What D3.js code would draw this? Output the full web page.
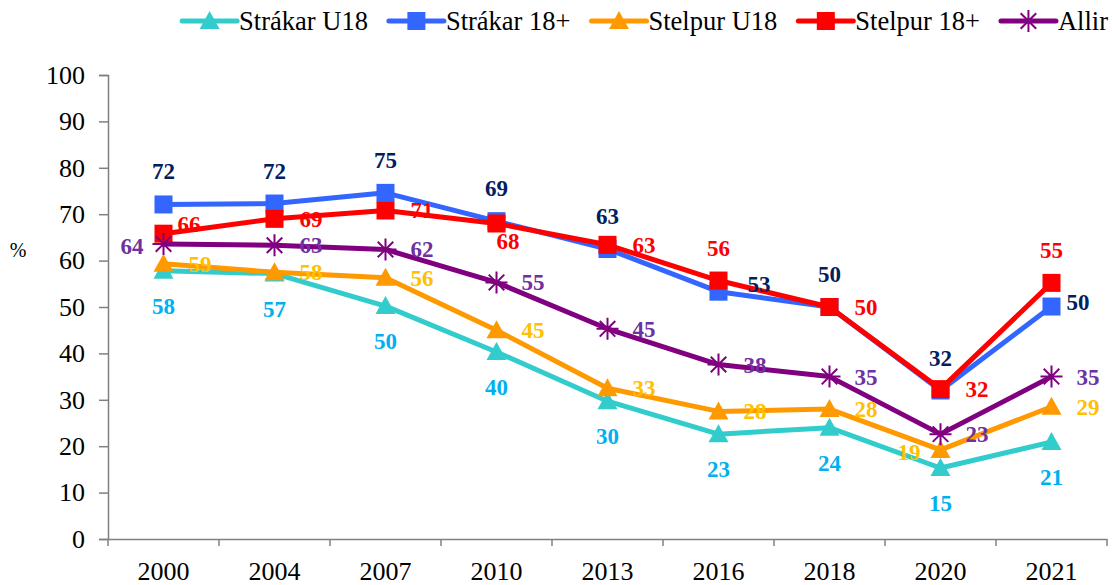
<!DOCTYPE html>
<html>
<head>
<meta charset="utf-8">
<script src="https://cdn.jsdelivr.net/npm/d3@7"></script>
<style>
  body { margin: 0; background: #fff; }
  svg text { font-family: "Liberation Serif", "Times New Roman", serif; }
</style>
</head>
<body>
<svg id="chart" width="1112" height="585"></svg>
<script>
const years = ["2000", "2004", "2007", "2010", "2013", "2016", "2018", "2020", "2021"]
const yTicks = [0, 10, 20, 30, 40, 50, 60, 70, 80, 90, 100]

const strakarU18 = [57.8, 57.2, 50.2, 40.3, 29.7, 22.6, 24, 15.3, 20.9]
const strakar18 = [72.1, 72.3, 74.6, 68.5, 62.5, 53.3, 50, 32, 50.1]
const stelpurU18 = [59.3, 57.5, 56.3, 45, 32.5, 27.5, 28, 19.2, 28.5]
const stelpur18 = [65.8, 69, 70.8, 68, 63.4, 55.7, 50, 32.3, 55.2]
const allir = [63.6, 63.3, 62.4, 55.3, 45.3, 37.6, 35, 22.6, 35]

// label text per point (rounded as shown) and where the label sits
const labelsStrakarU18 = ["58", "57", "50", "40", "30", "23", "24", "15", "21"]
const labelsStrakar18 = ["72", "72", "75", "69", "63", "53", "50", "32", "50"]
const labelsStelpurU18 = ["59", "58", "56", "45", "33", "28", "28", "19", "29"]
const labelsStelpur18 = ["66", "69", "71", "68", "63", "56", "50", "32", "55"]
const labelsAllir = ["64", "63", "62", "55", "45", "38", "35", "23", "35"]

const placeStrakarU18 = ["below", "below", "below", "below", "below", "below", "below", "below", "below"]
const placeStrakar18 = ["above", "above", "above", "above", "above", "rightup", "above", "above", "rightnear"]
const placeStelpurU18 = ["right", "right", "right", "right", "right", "right", "right", "left", "right"]
const placeStelpur18 = ["upright", "right", "right", "belowright", "right", "above", "right", "right", "above"]
const placeAllir = ["left", "right", "right", "right", "right", "right", "right", "right", "right"]

const series = [
  { name: "Strákar U18", values: strakarU18, labels: labelsStrakarU18, place: placeStrakarU18,
    line: "#33CCCC", label: "#00B0F0", marker: "triangle" },
  { name: "Strákar 18+", values: strakar18, labels: labelsStrakar18, place: placeStrakar18,
    line: "#3366FF", label: "#002060", marker: "square" },
  { name: "Stelpur U18", values: stelpurU18, labels: labelsStelpurU18, place: placeStelpurU18,
    line: "#FF9900", label: "#FFC000", marker: "triangle" },
  { name: "Stelpur 18+", values: stelpur18, labels: labelsStelpur18, place: placeStelpur18,
    line: "#FF0000", label: "#FF0000", marker: "square" },
  { name: "Allir", values: allir, labels: labelsAllir, place: placeAllir,
    line: "#800080", label: "#7030A0", marker: "star" }
]

const serif = "'Liberation Serif', 'Times New Roman', serif"
const svg = d3.select("#chart")
const plotLeft = 108, plotRight = 1107, plotTop = 75, plotBottom = 539

const x = d3.scaleBand().domain(years).range([plotLeft, plotRight])
const y = d3.scaleLinear().domain([0, 100]).range([plotBottom, plotTop])

// y axis
const yAxis = svg.append("g")
  .attr("transform", `translate(${plotLeft},0)`)
  .call(d3.axisLeft(y).tickValues(yTicks).tickSize(9).tickPadding(14))
yAxis.attr("font-family", null)
yAxis.selectAll("path, line").attr("stroke", "#808080").attr("stroke-width", 1.5)
yAxis.selectAll("text").style("font-size", "26px").style("font-family", serif).attr("fill", "#000")

// x axis
const xAxis = svg.append("g")
  .attr("transform", `translate(0,${plotBottom})`)
  .call(d3.axisBottom(x).tickSize(0).tickPadding(23).tickSizeOuter(0))
xAxis.attr("font-family", null)
xAxis.select("path").attr("stroke", "#808080").attr("stroke-width", 1.5)
xAxis.selectAll("text").style("font-size", "26px").style("font-family", serif).attr("fill", "#000")
xAxis.selectAll("line.sep")
  .data(d3.range(years.length + 1))
  .enter()
  .append("line")
  .attr("class", "sep")
  .attr("x1", function (i) { return plotLeft + i * x.step() })
  .attr("x2", function (i) { return plotLeft + i * x.step() })
  .attr("y1", 0)
  .attr("y2", 7)
  .attr("stroke", "#808080")
  .attr("stroke-width", 1.5)

svg.append("text")
  .attr("x", 18).attr("y", 257)
  .attr("text-anchor", "middle")
  .style("font-size", "20px")
  .style("font-family", serif)
  .text("%")

const cx = function (i) { return x(years[i]) + x.bandwidth() / 2 }

const line = d3.line()
  .x(function (d, i) { return cx(i) })
  .y(function (d) { return y(d) })

function drawMarker(g, type, color, px, py) {
  if (type === "square") {
    g.append("rect")
      .attr("x", px - 9).attr("y", py - 9)
      .attr("width", 18).attr("height", 18)
      .attr("fill", color)
  } else if (type === "triangle") {
    g.append("path")
      .attr("d", `M${px},${py - 10}L${px + 10},${py + 8}L${px - 10},${py + 8}Z`)
      .attr("fill", color)
  } else {
    const r = 11
    const p = []
    for (let k = 0; k < 4; k++) {
      const a = k * Math.PI / 4
      p.push(`M${px - r * Math.cos(a)},${py - r * Math.sin(a)}L${px + r * Math.cos(a)},${py + r * Math.sin(a)}`)
    }
    g.append("path")
      .attr("d", p.join(""))
      .attr("stroke", color)
      .attr("stroke-width", 2)
  }
}

// [dx, dy to baseline, anchor]
const labelOffset = {
  above: [0, -25, "middle"],
  below: [0, 43, "middle"],
  right: [25, 8, "start"],
  rightup: [29, 0, "start"],
  rightnear: [15, 3, "start"],
  upright: [14, -2, "start"],
  left: [-20, 10, "end"],
  belowright: [0, 26, "start"]
}

series.forEach(function (s) {
  const g = svg.append("g")
  g.append("path")
    .datum(s.values)
    .attr("d", line)
    .attr("fill", "none")
    .attr("stroke", s.line)
    .attr("stroke-width", 5)
    .attr("stroke-linejoin", "round")
  s.values.forEach(function (v, i) {
    drawMarker(g, s.marker, s.line, cx(i), y(v))
  })
})

// data labels on top
series.forEach(function (s) {
  svg.append("g")
    .selectAll("text")
    .data(s.values)
    .enter()
    .append("text")
    .attr("x", function (d, i) { return cx(i) + labelOffset[s.place[i]][0] })
    .attr("y", function (d, i) { return y(d) + labelOffset[s.place[i]][1] })
    .attr("text-anchor", function (d, i) { return labelOffset[s.place[i]][2] })
    .style("font-size", "23px")
    .style("font-family", serif)
    .attr("font-weight", "bold")
    .attr("fill", s.label)
    .text(function (d, i) { return s.labels[i] })
})

// legend, right aligned at the top
const legend = svg.append("g")
const items = legend.selectAll("g.item")
  .data(series)
  .enter()
  .append("g")
  .attr("class", "item")
items.append("text")
  .style("font-size", "26.5px")
  .style("font-family", serif)
  .attr("y", 30)
  .text(function (d) { return d.name })
let pos = 1108
const widths = []
items.select("text").each(function () { widths.push(this.getComputedTextLength()) })
const starts = []
for (let i = series.length - 1; i >= 0; i--) {
  const textX = pos - widths[i]
  starts[i] = textX
  pos = textX - 57 - 21
}
items.each(function (d, i) {
  const g = d3.select(this)
  g.select("text").attr("x", starts[i])
  g.append("line")
    .attr("x1", starts[i] - 57).attr("x2", starts[i] - 2)
    .attr("y1", 21).attr("y2", 21)
    .attr("stroke", d.line).attr("stroke-width", 5)
    .attr("stroke-linecap", "round")
  drawMarker(g, d.marker, d.line, starts[i] - 29.5, 21)
})
</script>
</body>
</html>
